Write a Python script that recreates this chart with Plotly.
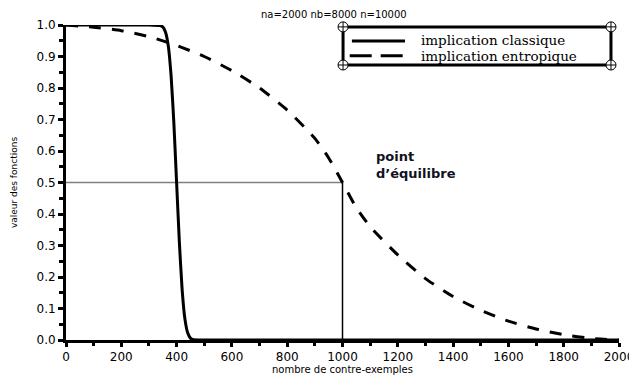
import plotly.graph_objects as go

# ---- data ----
classique_x = [0, 300, 340, 350, 360, 370, 380, 390, 400, 410, 420, 430, 440, 450, 460, 480, 2000]
classique_y = [1.0, 1.0, 0.998, 0.994, 0.977, 0.933, 0.84, 0.69, 0.5, 0.31, 0.16, 0.067, 0.023, 0.006, 0.001, 0.0, 0.0]

entropique_x = [0, 100, 200, 300, 400, 500, 600, 700, 800, 900, 950, 1000, 1050, 1100,
                1200, 1300, 1400, 1500, 1600, 1700, 1800, 1900, 2000]
entropique_y = [1.0, 0.993, 0.982, 0.963, 0.935, 0.90, 0.855, 0.80, 0.73, 0.64, 0.578, 0.5, 0.42, 0.36,
                0.27, 0.195, 0.138, 0.094, 0.06, 0.035, 0.017, 0.005, 0.0]

equilibre_x = 1000
equilibre_y = 0.5

x_ticks = [0, 200, 400, 600, 800, 1000, 1200, 1400, 1600, 1800, 2000]
y_ticks = [0.0, 0.1, 0.2, 0.3, 0.4, 0.5, 0.6, 0.7, 0.8, 0.9, 1.0]

title_text = "na=2000 nb=8000 n=10000"
series_names = ["implication classique", "implication entropique"]
eq_label = "<b>point<br>d’équilibre</b>"

fig = go.Figure()

# reference lines to the equilibrium point
fig.add_trace(go.Scatter(x=[0, equilibre_x], y=[equilibre_y, equilibre_y], mode="lines",
                         line=dict(color="#808080", width=1.5), showlegend=False, hoverinfo="skip"))
fig.add_trace(go.Scatter(x=[equilibre_x, equilibre_x], y=[0, equilibre_y], mode="lines",
                         line=dict(color="black", width=1.5), showlegend=False, hoverinfo="skip"))

fig.add_trace(go.Scatter(x=entropique_x, y=entropique_y, mode="lines", name=series_names[1],
                         line=dict(color="black", width=3, dash="12px,11px", shape="spline", smoothing=0.6),
                         showlegend=False, cliponaxis=False))
fig.add_trace(go.Scatter(x=classique_x, y=classique_y, mode="lines", name=series_names[0],
                         line=dict(color="black", width=3, shape="spline", smoothing=0.5),
                         showlegend=False, cliponaxis=False))

# ---- manual legend box ----
lx0, lx1, ly0, ly1 = 0.501, 0.9855, 0.873, 0.994
shapes = [dict(type="rect", xref="paper", yref="paper", x0=lx0, x1=lx1, y0=ly0, y1=ly1,
               line=dict(color="black", width=3), fillcolor="rgba(0,0,0,0)")]
# sample lines
shapes.append(dict(type="line", xref="paper", yref="paper", x0=0.517, x1=0.613, y0=0.949, y1=0.949,
                   line=dict(color="black", width=3)))
shapes.append(dict(type="line", xref="paper", yref="paper", x0=0.513, x1=0.613, y0=0.902, y1=0.902,
                   line=dict(color="black", width=3, dash="22px,9px")))
# corner markers (circle with cross)
for cx in (lx0, lx1):
    for cy in (ly0, ly1):
        shapes.append(dict(type="circle", xref="paper", yref="paper", xsizemode="pixel", ysizemode="pixel",
                           xanchor=cx, yanchor=cy, x0=-5, x1=5, y0=-5, y1=5,
                           line=dict(color="black", width=1), fillcolor="white"))
        shapes.append(dict(type="line", xref="paper", yref="paper", xsizemode="pixel", ysizemode="pixel",
                           xanchor=cx, yanchor=cy, x0=-5, x1=5, y0=0, y1=0,
                           line=dict(color="black", width=1)))
        shapes.append(dict(type="line", xref="paper", yref="paper", xsizemode="pixel", ysizemode="pixel",
                           xanchor=cx, yanchor=cy, x0=0, x1=0, y0=-5, y1=5,
                           line=dict(color="black", width=1)))

annotations = [
    dict(xref="paper", yref="paper", x=0.638, y=0.951, xanchor="left", yanchor="middle",
         text=series_names[0], showarrow=False,
         font=dict(family="DejaVu Serif", size=13.5, color="black")),
    dict(xref="paper", yref="paper", x=0.638, y=0.900, xanchor="left", yanchor="middle",
         text=series_names[1], showarrow=False,
         font=dict(family="DejaVu Serif", size=13.5, color="black")),
    dict(xref="x", yref="y", x=1115, y=0.556, xanchor="left", yanchor="middle",
         text=eq_label, showarrow=False, align="left",
         font=dict(family="DejaVu Sans", size=13, color="#111122")),
    dict(xref="paper", yref="paper", x=0.485, y=1.0, yshift=11, xanchor="center", yanchor="middle",
         text=title_text, showarrow=False,
         font=dict(family="DejaVu Sans", size=10, color="black")),
]

# the page body has an 8px margin, so the figure is sized/offset to compensate
fig.update_layout(
    width=629, height=370,
    margin=dict(l=58, r=18, t=17, b=38),
    paper_bgcolor="white", plot_bgcolor="white",
    shapes=shapes, annotations=annotations,
    showlegend=False,
    font=dict(family="DejaVu Sans", color="black"),
)

fig.update_xaxes(
    range=[0, 2000], tickvals=x_ticks, ticktext=[str(v) for v in x_ticks],
    automargin=False,
    showgrid=False, zeroline=False,
    showline=True, linecolor="black", linewidth=3,
    ticks="outside", ticklen=4, tickwidth=3, tickcolor="black",
    minor=dict(dtick=100, ticks="outside", ticklen=3, tickwidth=3, tickcolor="black", showgrid=False),
    tickfont=dict(family="DejaVu Sans", size=12, color="black"),
    title=dict(text="nombre de contre-exemples", font=dict(family="DejaVu Sans", size=10, color="black"),
               standoff=2),
)
fig.update_yaxes(
    range=[0, 1], tickvals=y_ticks, ticktext=[f"{v:.1f}" for v in y_ticks],
    automargin=False,
    showgrid=False, zeroline=False,
    showline=True, linecolor="black", linewidth=3,
    ticks="outside", ticklen=5, tickwidth=3, tickcolor="black",
    minor=dict(dtick=0.05, ticks="outside", ticklen=4, tickwidth=3, tickcolor="black", showgrid=False),
    tickfont=dict(family="DejaVu Sans", size=12, color="black"),
    title=dict(text="valeur des fonctions", font=dict(family="DejaVu Sans", size=9, color="black"),
               standoff=18),
)

fig.write_html("out.html")
